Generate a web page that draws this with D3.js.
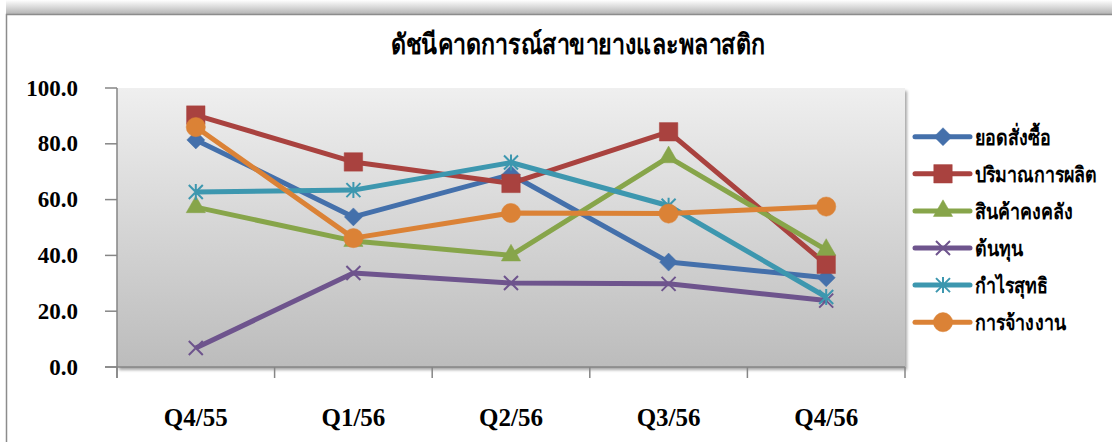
<!DOCTYPE html>
<html>
<head>
<meta charset="utf-8">
<script src="https://cdn.jsdelivr.net/npm/d3@7"></script>
<style>
	body { margin: 0; background: #fff; }
	svg { display: block; }
</style>
</head>
<body>
<div id="wrapper"></div>
<script>
const title = 'ดัชนีคาดการณ์สาขายางและพลาสติก';
const categories = [ 'Q4/55', 'Q1/56', 'Q2/56', 'Q3/56', 'Q4/56' ];
const seriesNames = [ 'ยอดสั่งซื้อ', 'ปริมาณการผลิต', 'สินค้าคงคลัง', 'ต้นทุน', 'กำไรสุทธิ', 'การจ้างงาน' ];
const orders = [ 81.4, 53.8, 69.0, 37.6, 32.0 ];
const production = [ 90.3, 73.5, 65.8, 84.3, 36.8 ];
const inventory = [ 57.3, 45.2, 40.0, 75.2, 42.0 ];
const cost = [ 6.8, 33.7, 30.1, 29.8, 23.8 ];
const profit = [ 62.7, 63.4, 73.3, 57.8, 25.1 ];
const employment = [ 86.0, 46.2, 55.2, 55.0, 57.5 ];
const yTicks = [ 0, 20, 40, 60, 80, 100 ];

const dimensions = {
	width: 1112,
	height: 442,
	plot: { left: 117, right: 905, top: 88, bottom: 367 }
};

function drawChart() {
	const values = [ orders, production, inventory, cost, profit, employment ];
	const colors = [ '#4470ab', '#a9423f', '#87a54a', '#6e548d', '#3d97af', '#db8236' ];
	const markers = [ 'diamond', 'square', 'triangle', 'x', 'star', 'circle' ];

	const series = seriesNames.map((name, i) => ({
		name: name,
		color: colors[i],
		marker: markers[i],
		points: categories.map((c, j) => ({ category: c, value: values[i][j] }))
	}));

	const p = dimensions.plot;

	const x = d3.scaleBand().domain(categories).range([ p.left, p.right ]);
	const y = d3.scaleLinear().domain([ 0, 100 ]).range([ p.bottom, p.top ]);
	const cx = (c) => x(c) + x.bandwidth() / 2;

	const svg = d3
		.select('#wrapper')
		.append('svg')
		.attr('width', dimensions.width)
		.attr('height', dimensions.height);

	const defs = svg.append('defs');
	const bg = defs.append('linearGradient').attr('id', 'plotbg').attr('x1', 0).attr('y1', 0).attr('x2', 0).attr('y2', 1);
	bg.append('stop').attr('offset', '0%').attr('stop-color', '#efefef');
	bg.append('stop').attr('offset', '100%').attr('stop-color', '#bcbcbc');

	const topShade = defs.append('linearGradient').attr('id', 'topshade').attr('x1', 0).attr('y1', 0).attr('x2', 0).attr('y2', 1);
	topShade.append('stop').attr('offset', '0%').attr('stop-color', '#ffffff');
	topShade.append('stop').attr('offset', '100%').attr('stop-color', '#b4b4b4');

	const shadow = defs.append('filter').attr('id', 'shadow').attr('x', '-5%').attr('y', '-5%').attr('width', '110%').attr('height', '115%');
	shadow.append('feDropShadow').attr('dx', 2).attr('dy', 3).attr('stdDeviation', 1.5).attr('flood-color', '#000').attr('flood-opacity', 0.35);

	// chart frame, cut off at right and bottom
	svg.append('rect').attr('x', 6).attr('y', 0).attr('width', dimensions.width - 6).attr('height', 14).attr('fill', 'url(#topshade)');
	svg
		.append('path')
		.attr('d', `M6.5,${dimensions.height} V14.5 H${dimensions.width}`)
		.attr('fill', 'none')
		.attr('stroke', '#8c8c8c')
		.attr('stroke-width', 1.5);

	// plot area
	svg
		.append('rect')
		.attr('x', p.left)
		.attr('y', p.top)
		.attr('width', p.right - p.left)
		.attr('height', p.bottom - p.top)
		.attr('fill', 'url(#plotbg)')
		.attr('filter', 'url(#shadow)');

	// title
	svg
		.append('text')
		.attr('transform', 'translate(578, 54) scale(0.83, 1)')
		.attr('text-anchor', 'middle')
		.attr('font-family', '"Liberation Serif", serif')
		.attr('font-weight', 'bold')
		.attr('font-size', 28)
		.attr('fill', '#000')
		.text(title);

	// y axis
	const yAxis = svg.append('g').attr('class', 'y-axis');
	yAxis
		.append('line')
		.attr('x1', p.left)
		.attr('x2', p.left)
		.attr('y1', p.top)
		.attr('y2', p.bottom + 11)
		.attr('stroke', '#868686')
		.attr('stroke-width', 1.5);
	yAxis
		.selectAll('.tick')
		.data(yTicks)
		.join('line')
		.attr('class', 'tick')
		.attr('x1', p.left - 12)
		.attr('x2', p.left)
		.attr('y1', (d) => y(d))
		.attr('y2', (d) => y(d))
		.attr('stroke', '#868686')
		.attr('stroke-width', 1.5);
	yAxis
		.selectAll('.label')
		.data(yTicks)
		.join('text')
		.attr('class', 'label')
		.attr('x', 78)
		.attr('y', (d) => y(d) + 7.5)
		.attr('text-anchor', 'end')
		.attr('font-family', '"Liberation Serif", serif')
		.attr('font-weight', 'bold')
		.attr('font-size', 23)
		.text((d) => d3.format('.1f')(d));

	// x axis
	const xAxis = svg.append('g').attr('class', 'x-axis');
	xAxis
		.append('line')
		.attr('x1', p.left - 12)
		.attr('x2', p.right)
		.attr('y1', p.bottom)
		.attr('y2', p.bottom)
		.attr('stroke', '#868686')
		.attr('stroke-width', 1.5);
	const boundaries = categories.map((c) => x(c)).concat([ x(categories[categories.length - 1]) + x.bandwidth() ]);
	xAxis
		.selectAll('.tick')
		.data(boundaries)
		.join('line')
		.attr('class', 'tick')
		.attr('x1', (d) => d)
		.attr('x2', (d) => d)
		.attr('y1', p.bottom)
		.attr('y2', p.bottom + 11)
		.attr('stroke', '#868686')
		.attr('stroke-width', 1.5);
	xAxis
		.selectAll('.label')
		.data(categories)
		.join('text')
		.attr('class', 'label')
		.attr('x', (d) => cx(d))
		.attr('y', 426)
		.attr('text-anchor', 'middle')
		.attr('font-family', '"Liberation Serif", serif')
		.attr('font-weight', 'bold')
		.attr('font-size', 25)
		.text((d) => d);

	// markers
	const markerPath = (type) => {
		if (type === 'diamond') return 'M0,-9L9,0L0,9L-9,0Z';
		if (type === 'square') return d3.symbol(d3.symbolSquare, 340)();
		if (type === 'triangle') return d3.symbol(d3.symbolTriangle, 160)();
		if (type === 'circle') return d3.symbol(d3.symbolCircle, 290)();
		if (type === 'x') return 'M-7,-7L7,7M-7,7L7,-7';
		return 'M0,-8V8M-7,-7L7,7M-7,7L7,-7';
	};
	const drawMarker = (g, s) => {
		const hollow = s.marker === 'x' || s.marker === 'star';
		g
			.append('path')
			.attr('d', markerPath(s.marker))
			.attr('fill', hollow ? 'none' : s.color)
			.attr('stroke', s.color)
			.attr('stroke-width', hollow ? 2 : 0.5);
	};

	// lines
	const line = d3.line().x((d) => cx(d.category)).y((d) => y(d.value));
	const lines = svg.append('g').attr('class', 'series');
	series.forEach((s) => {
		const g = lines.append('g');
		g
			.append('path')
			.attr('d', line(s.points))
			.attr('fill', 'none')
			.attr('stroke', s.color)
			.attr('stroke-width', 5)
			.attr('stroke-linejoin', 'round');
		s.points.forEach((d) => {
			const m = g.append('g').attr('transform', `translate(${cx(d.category)}, ${y(d.value)})`);
			drawMarker(m, s);
		});
	});

	// legend
	const legend = svg.append('g').attr('class', 'legend').attr('transform', 'translate(915, 136.7)');
	series.forEach((s, i) => {
		const item = legend.append('g').attr('transform', `translate(0, ${i * 37.1})`);
		item
			.append('line')
			.attr('x1', 0)
			.attr('x2', 55)
			.attr('y1', 0)
			.attr('y2', 0)
			.attr('stroke', s.color)
			.attr('stroke-width', 5)
			.attr('stroke-linecap', 'round');
		const m = item.append('g').attr('transform', 'translate(28, 0)');
		drawMarker(m, s);
		item
			.append('text')
			.attr('transform', 'translate(60, 8) scale(0.85, 1)')
			.attr('font-family', '"Liberation Serif", serif')
			.attr('font-weight', 'bold')
			.attr('font-size', 21)
			.text(s.name);
	});
}
drawChart();
</script>
</body>
</html>
